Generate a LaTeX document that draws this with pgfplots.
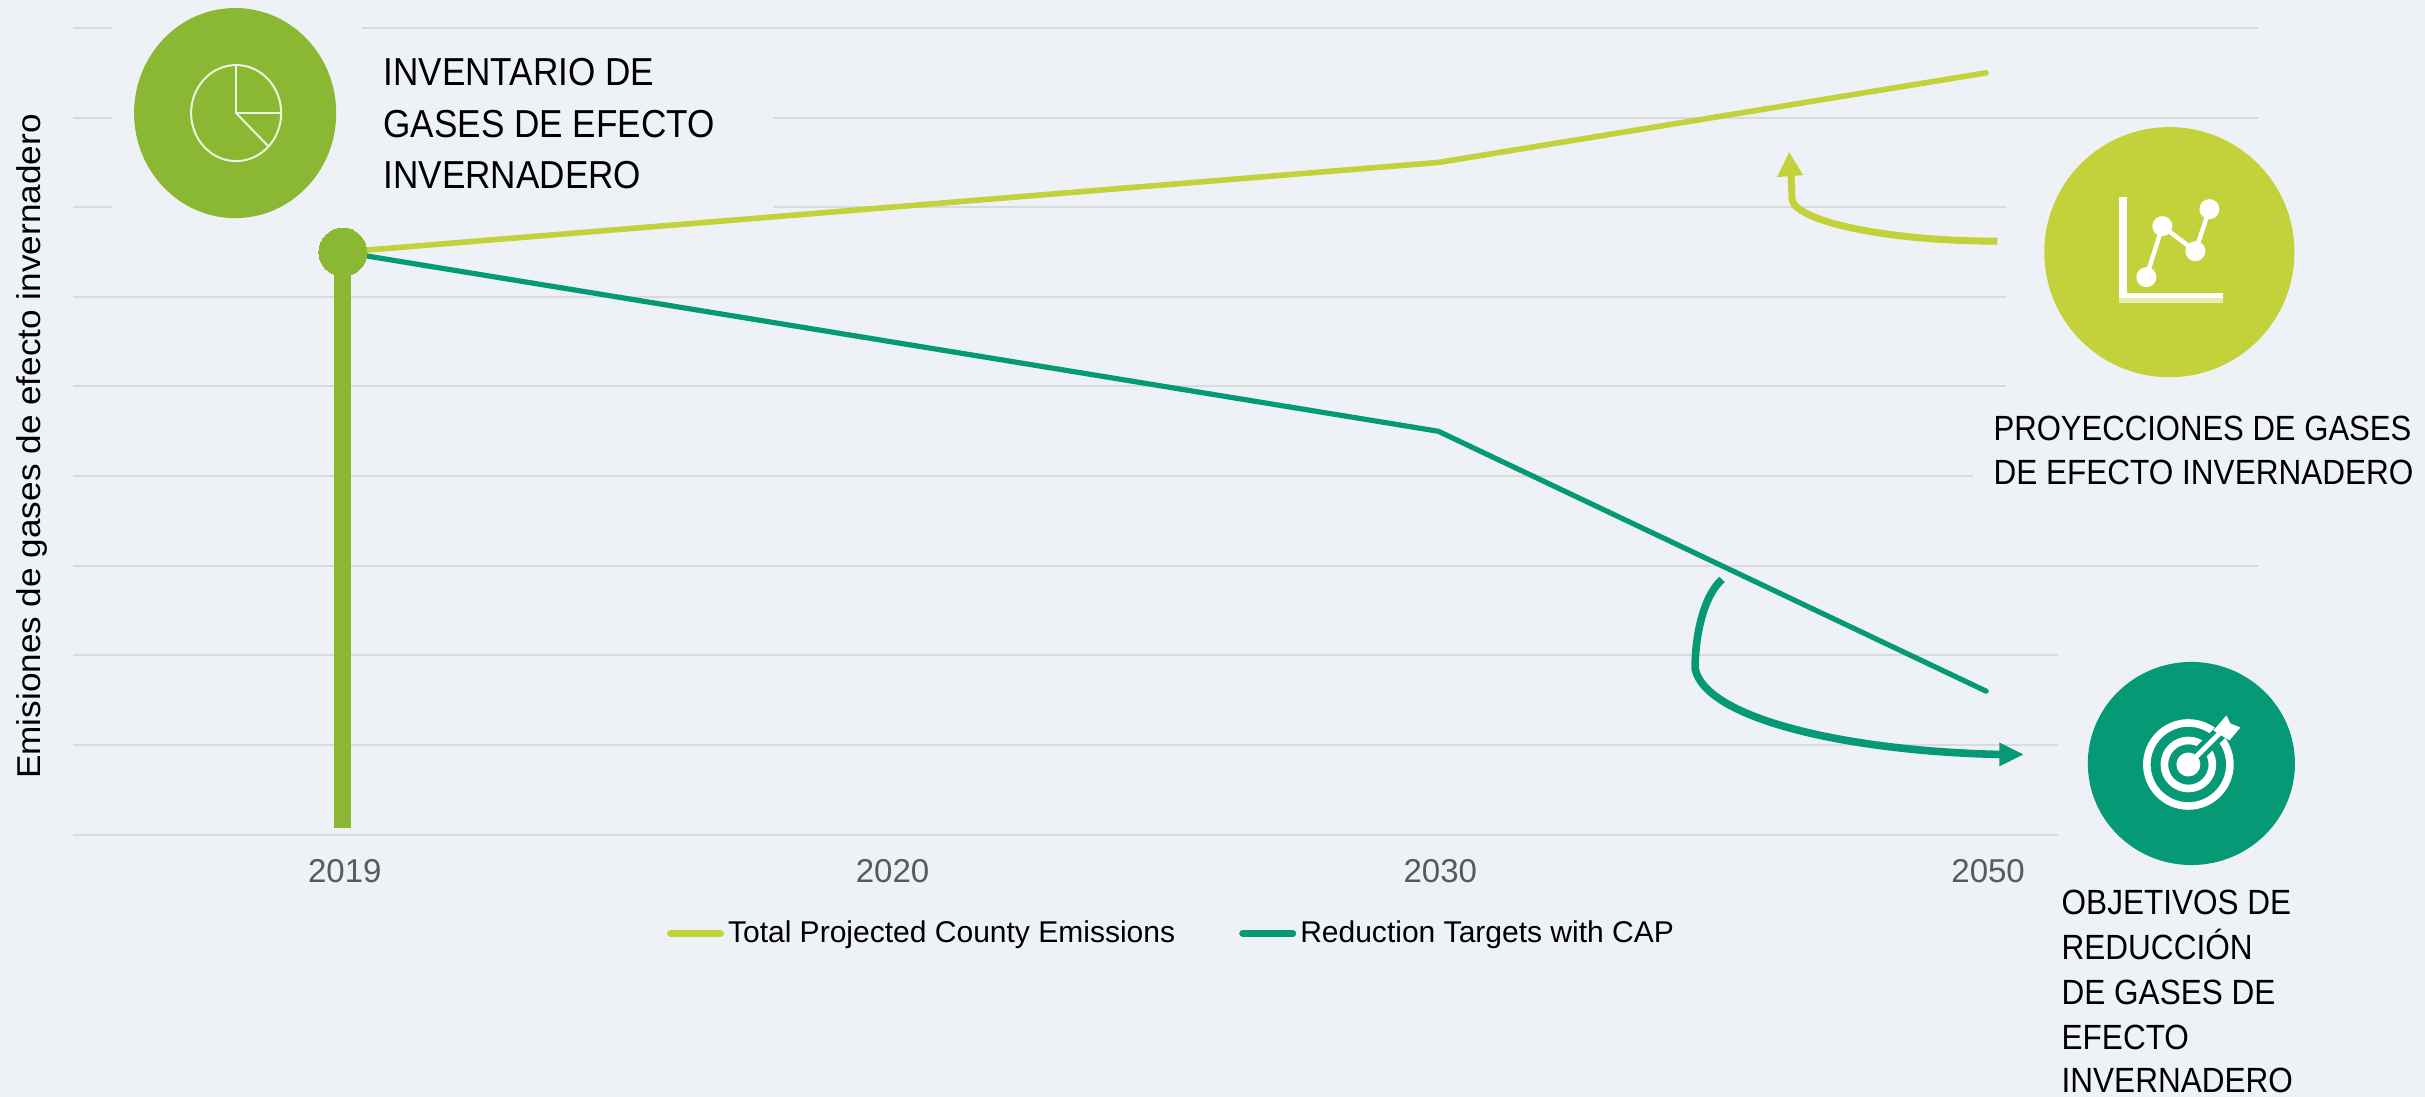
\documentclass[border=0pt]{standalone}
\usepackage{fontspec}
\setmainfont{Liberation Sans}
\newfontfamily\narrow[FakeStretch=0.90]{Liberation Sans}
\newfontfamily\narrowb[FakeStretch=0.887]{Liberation Sans}
\newfontfamily\wide[FakeStretch=1.065]{Liberation Sans}
\usepackage{pgfplots}
\pgfplotsset{compat=1.18}
\usetikzlibrary{arrows.meta}

\definecolor{bg}{HTML}{EEF2F6}
\definecolor{gridc}{HTML}{D9DADC}
\definecolor{lime}{HTML}{C3D13A}
\definecolor{teal2}{HTML}{059976}
\definecolor{leaf}{HTML}{8AB833}
\definecolor{tickc}{HTML}{595959}

% reference pixels -> axis units (1 px = 0.5pt)
\newcommand{\PX}[2]{(axis cs:{(#1-343)/547.67},{(835-#2)/8.97})}
% one line of annotation text, anchored at its baseline
\newcommand{\lab}[4][17.5]{\node[anchor=base west,inner sep=0pt,font=\fontsize{#1}{#1}\selectfont\narrow] at (#2,#3) {#4};}

\begin{document}
\begin{tikzpicture}
\begin{scope}[x=0.5pt,y=-0.5pt]
  \path[use as bounding box,fill=bg] (0,0) rectangle (2423.5,1096.3);
\end{scope}

\begin{axis}[
  at={(36.5pt,-417pt)}, anchor=south west,
  scale only axis, width=1092pt, height=403pt,
  clip=false,
  xmin=-0.4925, xmax=3.497, ymin=0, ymax=90,
  axis line style={draw=none},
  major tick length=0pt,
  xtick={0,1,2,3},
  xticklabels={2019,2020,2030,2050},
  xticklabel style={font=\fontsize{16.5}{16.5}\selectfont, text=tickc, yshift=-9pt, xshift=1pt},
  ytick={0,10,...,90},
  yticklabels={},
  ymajorgrids=true,
  grid style={gridc, line width=1pt},
  ylabel={Emisiones de gases de efecto invernadero},
  every axis y label/.style={at={(rel axis cs:-0.0190,0.481)},rotate=90,anchor=center,font=\fontsize{16.5}{16.5}\selectfont\wide},
  legend columns=2,
  legend style={at={(rel axis cs:0.2716,-0.1227)},anchor=west,draw=none,fill=none,
    font=\fontsize{15}{15}\selectfont,
    inner sep=0pt, /tikz/every even column/.append style={column sep=30pt}},
  legend image code/.code={\draw[#1,line width=3.5pt] (0pt,0pt) -- (25pt,0pt);},
]
  % background boxes that hid the gridlines behind icons and text
  \fill[bg] \PX{112}{10} rectangle \PX{362}{240};
  \fill[bg] \PX{362}{60} rectangle \PX{773}{240};
  \fill[bg] \PX{2006}{190} rectangle \PX{2270}{400};
  \fill[bg] \PX{1973}{420} rectangle \PX{2270}{500};
  \fill[bg] \PX{2058}{640} rectangle \PX{2270}{840};

  \addplot[lime, line width=2.8pt, line cap=round, line join=round] coordinates {(0,65) (1,70) (2,75) (3,85)};
  \addplot[teal2, line width=2.6pt, line cap=round, line join=round] coordinates {(0,65) (1,55) (2,45) (3,16)};
  \legend{Total Projected County Emissions, Reduction Targets with CAP}

  \addplot[forget plot, leaf, line width=8.5pt] coordinates {(0,0.7) (0,65)};
  \addplot[forget plot, only marks, mark=*, mark size=12pt, mark options={fill=leaf,draw=leaf,line width=0pt}] coordinates {(0,65)};
\end{axis}

\begin{scope}[x=0.5pt,y=-0.5pt]
  % inventory icon
  \fill[leaf] (235,113) ellipse [x radius=101,y radius=105];
  \draw[white!85!leaf,line width=1pt] (236,113) ellipse [x radius=45,y radius=48];
  \draw[white!85!leaf,line width=1pt] (236,65) -- (236,113) -- (281,113);
  \draw[white!85!leaf,line width=1pt] (236,113) -- (268,146);
  \lab[19.5]{383}{85}{INVENTARIO DE}
  \lab[19.5]{383}{137}{GASES DE EFECTO}
  \lab[19.5]{383}{188}{INVERNADERO}

  % projection icon
  \fill[lime] (2168,252) circle [radius=125];
  \fill[white] (2118,197) rectangle (2126,303);
  \fill[white] (2118,293) rectangle (2222,298);
  \fill[white!60!lime] (2118,298) rectangle (2222,303);
  \draw[white,line width=2.2pt] (2145,277) -- (2161,226) -- (2194,251) -- (2208,209);
  \foreach \p in {(2145,277),(2161,226),(2194,251),(2208,209)} \fill[white] \p circle [radius=10];
  \lab{1992}{440}{\narrowb PROYECCIONES DE GASES}
  \lab{1992}{484}{DE EFECTO INVERNADERO}
  \draw[lime,line width=3.5pt] (1996,241) .. controls (1880,241) and (1795,220) .. (1791,200) -- (1790,176);
  \fill[lime] (1788,152) -- (1776,177) -- (1802,175) -- cycle;

  % target icon
  \fill[teal2] (2190,763) ellipse [x radius=103.5,y radius=101.5];
  \draw[white,line width=3.8pt] (2187,764) circle [radius=41.5];
  \draw[white,line width=3.8pt] (2187,764) circle [radius=24];
  \draw[teal2,line width=7pt] (2187,764) -- (2231,720);
  \fill[white] (2187,764) circle [radius=12];
  \draw[white,line width=2.4pt] (2187,764) -- (2221,730);
  \fill[white] (2225,715) -- (2229,723) -- (2239,727) -- (2228,740) -- (2212,730) -- cycle;
  \lab{2060}{914}{OBJETIVOS DE}
  \lab{2060}{959}{REDUCCIÓN}
  \lab{2060}{1004}{DE GASES DE}
  \lab{2060}{1049}{EFECTO}
  \lab{2060}{1092}{INVERNADERO}
  \draw[teal2,line width=3.8pt] (1721,579) .. controls (1701,597) and (1694,639) .. (1694,668)
     .. controls (1704,719) and (1849,751) .. (2000,754);
  \fill[teal2] (2022,754) -- (1998,742) -- (1998,766) -- cycle;
\end{scope}
\end{tikzpicture}
\end{document}
